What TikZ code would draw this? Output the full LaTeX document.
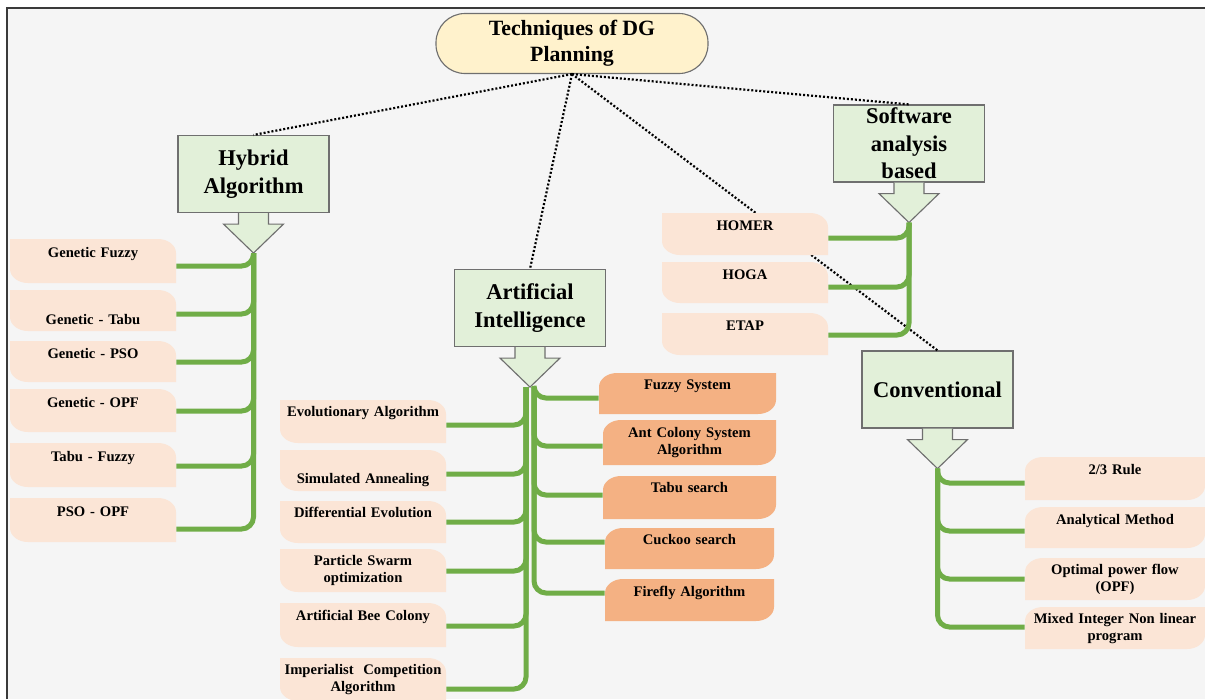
\documentclass[tikz,border=0pt]{standalone}
\usepackage{fontspec}
\setmainfont{Liberation Serif}
\usepackage{tikz}

\newdimen\pxu
\pxu=0.025cm

\definecolor{pagebg}{HTML}{F5F5F5}
\definecolor{frameline}{HTML}{3A3A3A}
\definecolor{titlefill}{HTML}{FFF2CC}
\definecolor{headfill}{HTML}{E2F0D9}
\definecolor{edgegray}{HTML}{6F6F6F}
\definecolor{peach}{HTML}{FBE5D6}
\definecolor{salmon}{HTML}{F4B183}
\definecolor{leafgreen}{HTML}{70AD47}

\begin{document}
\begin{tikzpicture}[x=0.025cm, y=-0.025cm,
    titlebox/.style={draw=edgegray, line width=0.8pt, fill=titlefill, rounded corners=29\pxu, minimum width=272\pxu, minimum height=60\pxu, inner sep=0pt, align=center, font=\fontsize{15.5}{18.5}\selectfont\bfseries},
    head/.style={draw=edgegray, line width=0.8pt, fill=headfill, minimum width=151\pxu, minimum height=77\pxu, inner sep=0pt, align=center, font=\fontsize{16}{19.5}\selectfont\bfseries},
    headarrow/.style={draw=edgegray, line width=0.8pt, fill=headfill},
    link/.style={draw=black, line width=2.2\pxu, dash pattern=on 2\pxu off 2\pxu},
    branch/.style={draw=leafgreen, line width=5\pxu, rounded corners=12\pxu},
    leaf/.style={anchor=base, inner sep=0pt, align=center, font=\fontsize{10.4}{12.2}\selectfont\bfseries},
    leafL/.style={leaf, path picture={
        \fill[#1] (path picture bounding box.north west)
          -- ([xshift=-18\pxu]path picture bounding box.north east)
          arc[start angle=90, end angle=0, x radius=18\pxu, y radius=14\pxu]
          -- (path picture bounding box.south east)
          -- ([xshift=18\pxu]path picture bounding box.south west)
          arc[start angle=270, end angle=180, x radius=18\pxu, y radius=14\pxu]
          -- cycle;}},
    leafL/.default=peach,
    leafR/.style={leaf, path picture={
        \fill[#1] ([xshift=18\pxu]path picture bounding box.north west)
          -- (path picture bounding box.north east)
          -- ([yshift=14\pxu]path picture bounding box.south east)
          arc[start angle=0, end angle=-90, x radius=18\pxu, y radius=14\pxu]
          -- (path picture bounding box.south west)
          -- ([yshift=-14\pxu]path picture bounding box.north west)
          arc[start angle=180, end angle=90, x radius=18\pxu, y radius=14\pxu]
          -- cycle;}},
    leafR/.default=peach]

	\useasboundingbox (0,0) rectangle (1205,699);
	\fill[pagebg] (7,8) rectangle (1205,699);
	\draw[frameline, line width=1.6\pxu] (7,699) -- (7,8) -- (1205,8);

	% root and the four families
	\node[titlebox] (title) at (572,43.5) {Techniques of DG\\Planning};
	\node[head] (hyb) at (253.5,174) {Hybrid\\Algorithm};
	\node[head] (soft) at (909,143.5) {Software\\analysis\\based};
	\node[head] (ai) at (530,308) {Artificial\\Intelligence};
	\node[head] (conv) at (937.5,389.5) {Conventional};

	\foreach \h in {hyb, soft, ai, conv}
		\draw[headarrow] ([xshift=-15\pxu]\h.south) -- ++(0,11) -- ++(-15,0)
			-- ++(30,29) coordinate (\h-tip) -- ++(30,-29) -- ++(-15,0) -- ++(0,-11);

	\path (title.south) edge[link] (hyb.north)
		(title.south) edge[link] (ai.north)
		(title.south) edge[link] (conv.north)
		(title.south) edge[link] (soft.north);

	% hybrid algorithms
	\node[leafL, text width=166\pxu, text height=18\pxu, text depth=26\pxu] (gf) at (93,257) {Genetic Fuzzy};
	\node[leafL, text width=166\pxu, text height=34\pxu, text depth=7\pxu] (gt) at (93,324) {Genetic - Tabu};
	\node[leafL, text width=166\pxu, text height=17\pxu, text depth=24\pxu] (gp) at (93,358) {Genetic - PSO};
	\node[leafL, text width=166\pxu, text height=18\pxu, text depth=25\pxu] (go) at (93,407) {Genetic - OPF};
	\node[leafL, text width=166\pxu, text height=18\pxu, text depth=26\pxu] (tf) at (93,461) {Tabu - Fuzzy};
	\node[leafL, text width=166\pxu, text height=18\pxu, text depth=26\pxu] (po) at (93,516) {PSO - OPF};

	% artificial intelligence
	\node[leafL, text width=166\pxu, text height=16\pxu, text depth=27\pxu] (evo) at (363,416) {Evolutionary Algorithm};
	\node[leafL, text width=166\pxu, text height=33\pxu, text depth=8\pxu] (sa) at (363,483) {Simulated Annealing};
	\node[leafL, text width=166\pxu, text height=16\pxu, text depth=26\pxu] (de) at (363,517) {Differential Evolution};
	\node[leafL, text width=166\pxu, text height=16\pxu, text depth=27\pxu] (pso) at (363,565) {Particle Swarm\\optimization};
	\node[leafL, text width=166\pxu, text height=17\pxu, text depth=27\pxu] (abc) at (363,620) {Artificial Bee Colony};
	\node[leafL, text width=166\pxu, text height=16\pxu, text depth=27\pxu] (ica) at (363,674) {Imperialist\ \ Competition\\Algorithm};

	\node[leafR=salmon, text width=177\pxu, text height=16\pxu, text depth=25\pxu] (fs) at (687.5,389) {Fuzzy System};
	\node[leafR=salmon, text width=173\pxu, text height=17\pxu, text depth=28\pxu] (acs) at (689.5,437) {Ant Colony System\\Algorithm};
	\node[leafR=salmon, text width=173\pxu, text height=16\pxu, text depth=27\pxu] (ts) at (689.5,492) {Tabu search};
	\node[leafR=salmon, text width=169\pxu, text height=16\pxu, text depth=25\pxu] (cs) at (689.5,544) {Cuckoo search};
	\node[leafR=salmon, text width=169\pxu, text height=17\pxu, text depth=25\pxu] (fa) at (689.5,596) {Firefly Algorithm};

	% software tools
	\node[leafL, text width=166\pxu, text height=17\pxu, text depth=25\pxu] (homer) at (745,230) {HOMER};
	\node[leafL, text width=166\pxu, text height=17\pxu, text depth=24\pxu] (hoga) at (745,279) {HOGA};
	\node[leafL, text width=166\pxu, text height=17\pxu, text depth=25\pxu] (etap) at (745,330) {ETAP};

	% conventional methods
	\node[leafR, text width=180\pxu, text height=17\pxu, text depth=26\pxu] (r23) at (1115,474) {2/3 Rule};
	\node[leafR, text width=180\pxu, text height=17\pxu, text depth=24\pxu] (am) at (1115,524) {Analytical Method};
	\node[leafR, text width=180\pxu, text height=16\pxu, text depth=26\pxu] (opf) at (1115,574) {Optimal power flow\\(OPF)};
	\node[leafR, text width=180\pxu, text height=16\pxu, text depth=26\pxu] (minlp) at (1115,623) {Mixed Integer Non linear\\program};

	% green trees
	\foreach \n/\d in {gf/-5, gt/-3.5, gp/-0.5, go/-0.5, tf/-1, po/-9}
		\draw[branch] (hyb-tip) |- ([yshift=\d\pxu]\n.east);
	\foreach \n/\d in {evo/-3.5, sa/-3.5, de/0, pso/-0.5, abc/-1, ica/-9.5}
		\draw[branch] ([xshift=-4\pxu]ai-tip) |- ([yshift=\d\pxu]\n.east);
	\foreach \n/\d in {fs/-4.5, acs/-3.5, ts/2.5, cs/6.5, fa/7}
		\draw[branch] ([xshift=4\pxu]ai-tip) |- ([yshift=\d\pxu]\n.west);
	\foreach \n/\d in {homer/-4, hoga/-4.5, etap/-1}
		\draw[branch] (soft-tip) |- ([yshift=\d\pxu]\n.east);
	\foreach \n/\d in {r23/-4.5, am/-3.5, opf/0, minlp/1}
		\draw[branch] (conv-tip) |- ([yshift=\d\pxu]\n.west);
\end{tikzpicture}
\end{document}
